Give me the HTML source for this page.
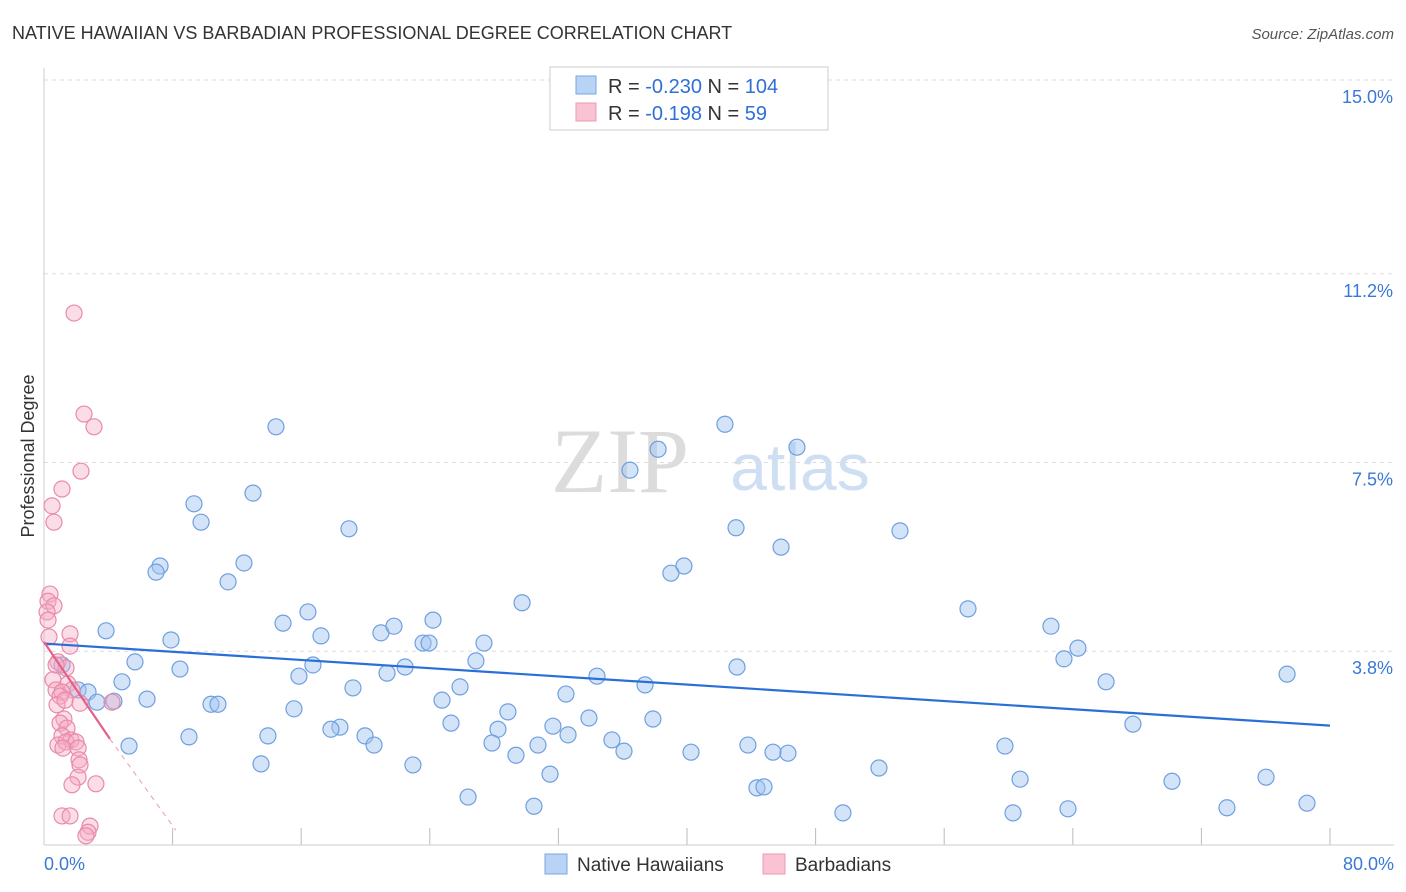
<!DOCTYPE html>
<html><head><meta charset="utf-8"><style>
body{margin:0;background:#fff;font-family:"Liberation Sans",sans-serif;}
svg{display:block}
</style></head><body>
<svg id="chart" width="1406" height="892" viewBox="0 0 1406 892">
<text x="12" y="39" font-size="18" fill="#333">NATIVE HAWAIIAN VS BARBADIAN PROFESSIONAL DEGREE CORRELATION CHART</text>
<text x="1394" y="39" font-size="15" fill="#555" font-style="italic" text-anchor="end">Source: ZipAtlas.com</text>
<text x="620" y="492" font-size="92" fill="#dcdcdc" font-family="Liberation Serif,serif" text-anchor="middle">ZIP</text>
<text x="800" y="490" font-size="66" fill="#cfdff3" text-anchor="middle">atlas</text>
<g id="grid"></g>
<line x1="44" y1="68" x2="44" y2="845" stroke="#ccc"/>
<line x1="44" y1="845" x2="1394" y2="845" stroke="#ccc"/>
<text x="34" y="456" font-size="18" fill="#333" transform="rotate(-90 34 456)" text-anchor="middle">Professional Degree</text>
<text x="44" y="870" font-size="18" fill="#3a78d6">0.0%</text>
<text x="1394" y="870" font-size="18" fill="#3a78d6" text-anchor="end">80.0%</text>
<g id="marks"></g>
<g>
<rect x="550" y="67" width="278" height="63" fill="#fff" stroke="#ccc"/>
<rect x="576" y="76" width="20" height="18" fill="#b9d3f5" stroke="#7aa6e3"/>
<rect x="576" y="103" width="20" height="18" fill="#f9c3d3" stroke="#ec9ab4"/>
<text x="608" y="93" font-size="20" fill="#333">R = <tspan fill="#2f6fd6">-0.230</tspan>    N = <tspan fill="#2f6fd6">104</tspan></text>
<text x="608" y="120" font-size="20" fill="#333">R =  <tspan fill="#2f6fd6">-0.198</tspan>    N =   <tspan fill="#2f6fd6">59</tspan></text>
</g>
<g>
<rect x="545" y="854" width="22" height="20" fill="#b9d3f5" stroke="#7aa6e3"/>
<text x="577" y="871" font-size="19" fill="#333">Native Hawaiians</text>
<rect x="763" y="854" width="22" height="20" fill="#f9c3d3" stroke="#ec9ab4"/>
<text x="795" y="871" font-size="19" fill="#333">Barbadians</text>
</g>
</svg>
<script>
const yTicks=[3.8,7.5,11.2,15.0];
const yTickLabels=["3.8%","7.5%","11.2%","15.0%"];
const xTicks=[8,16,24,32,40,48,56,64,72,80];
const bluePx=[[276,427],[725,424],[658,449],[797,447],[630,470],[253,493],[194,504],[201,522],[349,529],[736,528],[900,531],[781,547],[244,563],[160,566],[156,572],[684,566],[671,573],[228,582],[522,603],[968,609],[308,612],[433,620],[283,623],[1051,626],[106,631],[381,633],[394,626],[171,640],[321,636],[423,643],[429,643],[484,643],[1078,648],[1064,659],[135,662],[476,661],[313,665],[405,667],[180,669],[737,667],[387,673],[299,676],[597,676],[1287,674],[122,682],[1106,682],[460,687],[353,688],[645,685],[78,690],[88,692],[566,694],[97,702],[114,701],[147,699],[211,704],[218,704],[442,700],[294,709],[508,712],[653,719],[589,718],[1133,724],[340,727],[331,729],[451,723],[498,729],[553,726],[189,737],[268,736],[365,736],[568,735],[612,740],[492,743],[374,745],[129,746],[538,745],[624,751],[748,745],[1005,746],[691,752],[773,752],[788,753],[516,755],[261,764],[413,765],[879,768],[550,774],[1020,779],[1172,781],[1266,777],[757,788],[764,787],[468,797],[534,806],[1307,803],[1227,808],[1068,809],[843,813],[1013,813],[62,665]];
const pinkPx=[[74,313],[84,414],[94,427],[81,471],[62,489],[52,506],[54,522],[50,594],[48,601],[54,606],[47,612],[48,620],[70,634],[49,637],[70,646],[58,662],[66,668],[53,680],[68,684],[56,690],[72,690],[62,692],[60,696],[80,703],[57,705],[65,700],[64,719],[60,723],[67,728],[62,736],[71,740],[58,745],[66,742],[76,742],[63,748],[78,748],[79,760],[80,765],[78,777],[72,785],[96,784],[62,816],[70,816],[90,826],[88,832],[86,836],[112,702],[56,665]];
// convert read pixel estimates to data values (x %, y %)
const blueX=bluePx.map(p=>+((p[0]-44)*80/1286).toFixed(2));
const blueY=bluePx.map(p=>+((845-p[1])*15/765).toFixed(2));
const pinkX=pinkPx.map(p=>+((p[0]-44)*80/1286).toFixed(2));
const pinkY=pinkPx.map(p=>+((845-p[1])*15/765).toFixed(2));
const blueTrend=[[0,3.95],[80,2.34]];
const pinkTrend=[[0,3.98],[4.1,2.08]];
const pinkTrendExt=[[4.1,2.08],[8.2,0.29]];
const sx=v=>44+v*1286/80, sy=v=>845-v*765/15;
const NS="http://www.w3.org/2000/svg";
const grid=document.getElementById('grid'), marks=document.getElementById('marks'), svg=document.getElementById('chart');
yTicks.forEach((t,i)=>{
 const l=document.createElementNS(NS,'line');
 l.setAttribute('x1',44);l.setAttribute('x2',1394);l.setAttribute('y1',sy(t));l.setAttribute('y2',sy(t));
 l.setAttribute('stroke','#ddd');l.setAttribute('stroke-dasharray','4,4');
 
 
 grid.appendChild(l);
 const tx=document.createElementNS(NS,'text');
 tx.setAttribute('x',1393);tx.setAttribute('y',sy(t)+23);tx.setAttribute('text-anchor','end');
 tx.setAttribute('font-size','18');tx.setAttribute('fill','#3a78d6');tx.textContent=yTickLabels[i];
 
 
 grid.appendChild(tx);
});
xTicks.forEach(t=>{
 const l=document.createElementNS(NS,'line');
 l.setAttribute('x1',sx(t));l.setAttribute('x2',sx(t));l.setAttribute('y1',828);l.setAttribute('y2',845);
 l.setAttribute('stroke','#bbb');
 
 
 grid.appendChild(l);
});
function dots(xs,ys,fill,stroke,name){
 xs.forEach((x,i)=>{
  const c=document.createElementNS(NS,'circle');
  c.setAttribute('cx',sx(x));c.setAttribute('cy',sy(ys[i]));c.setAttribute('r',8);
  c.setAttribute('fill',fill);c.setAttribute('stroke',stroke);c.setAttribute('stroke-width','1.2');
  
  
  marks.appendChild(c);
 });
}
dots(blueX,blueY,'rgba(160,195,240,0.45)','#6f9fe0','native-hawaiian-point');
dots(pinkX,pinkY,'rgba(245,170,195,0.4)','#e98aa9','barbadian-point');
function line(pts,color,w,dash,name){
 const l=document.createElementNS(NS,'line');
 l.setAttribute('x1',sx(pts[0][0]));l.setAttribute('y1',sy(pts[0][1]));
 l.setAttribute('x2',sx(pts[1][0]));l.setAttribute('y2',sy(pts[1][1]));
 l.setAttribute('stroke',color);l.setAttribute('stroke-width',w);
 if(dash)l.setAttribute('stroke-dasharray',dash);
 
 
 marks.appendChild(l);
}
line(blueTrend,'#2a6fd8',2.2,null,'native-hawaiian-trendline');
line(pinkTrend,'#e4608a',2.2,null,'barbadian-trendline');
line(pinkTrendExt,'#e89ab2',1,'5,5','barbadian-trendline-extension');
</script>
</body></html>
